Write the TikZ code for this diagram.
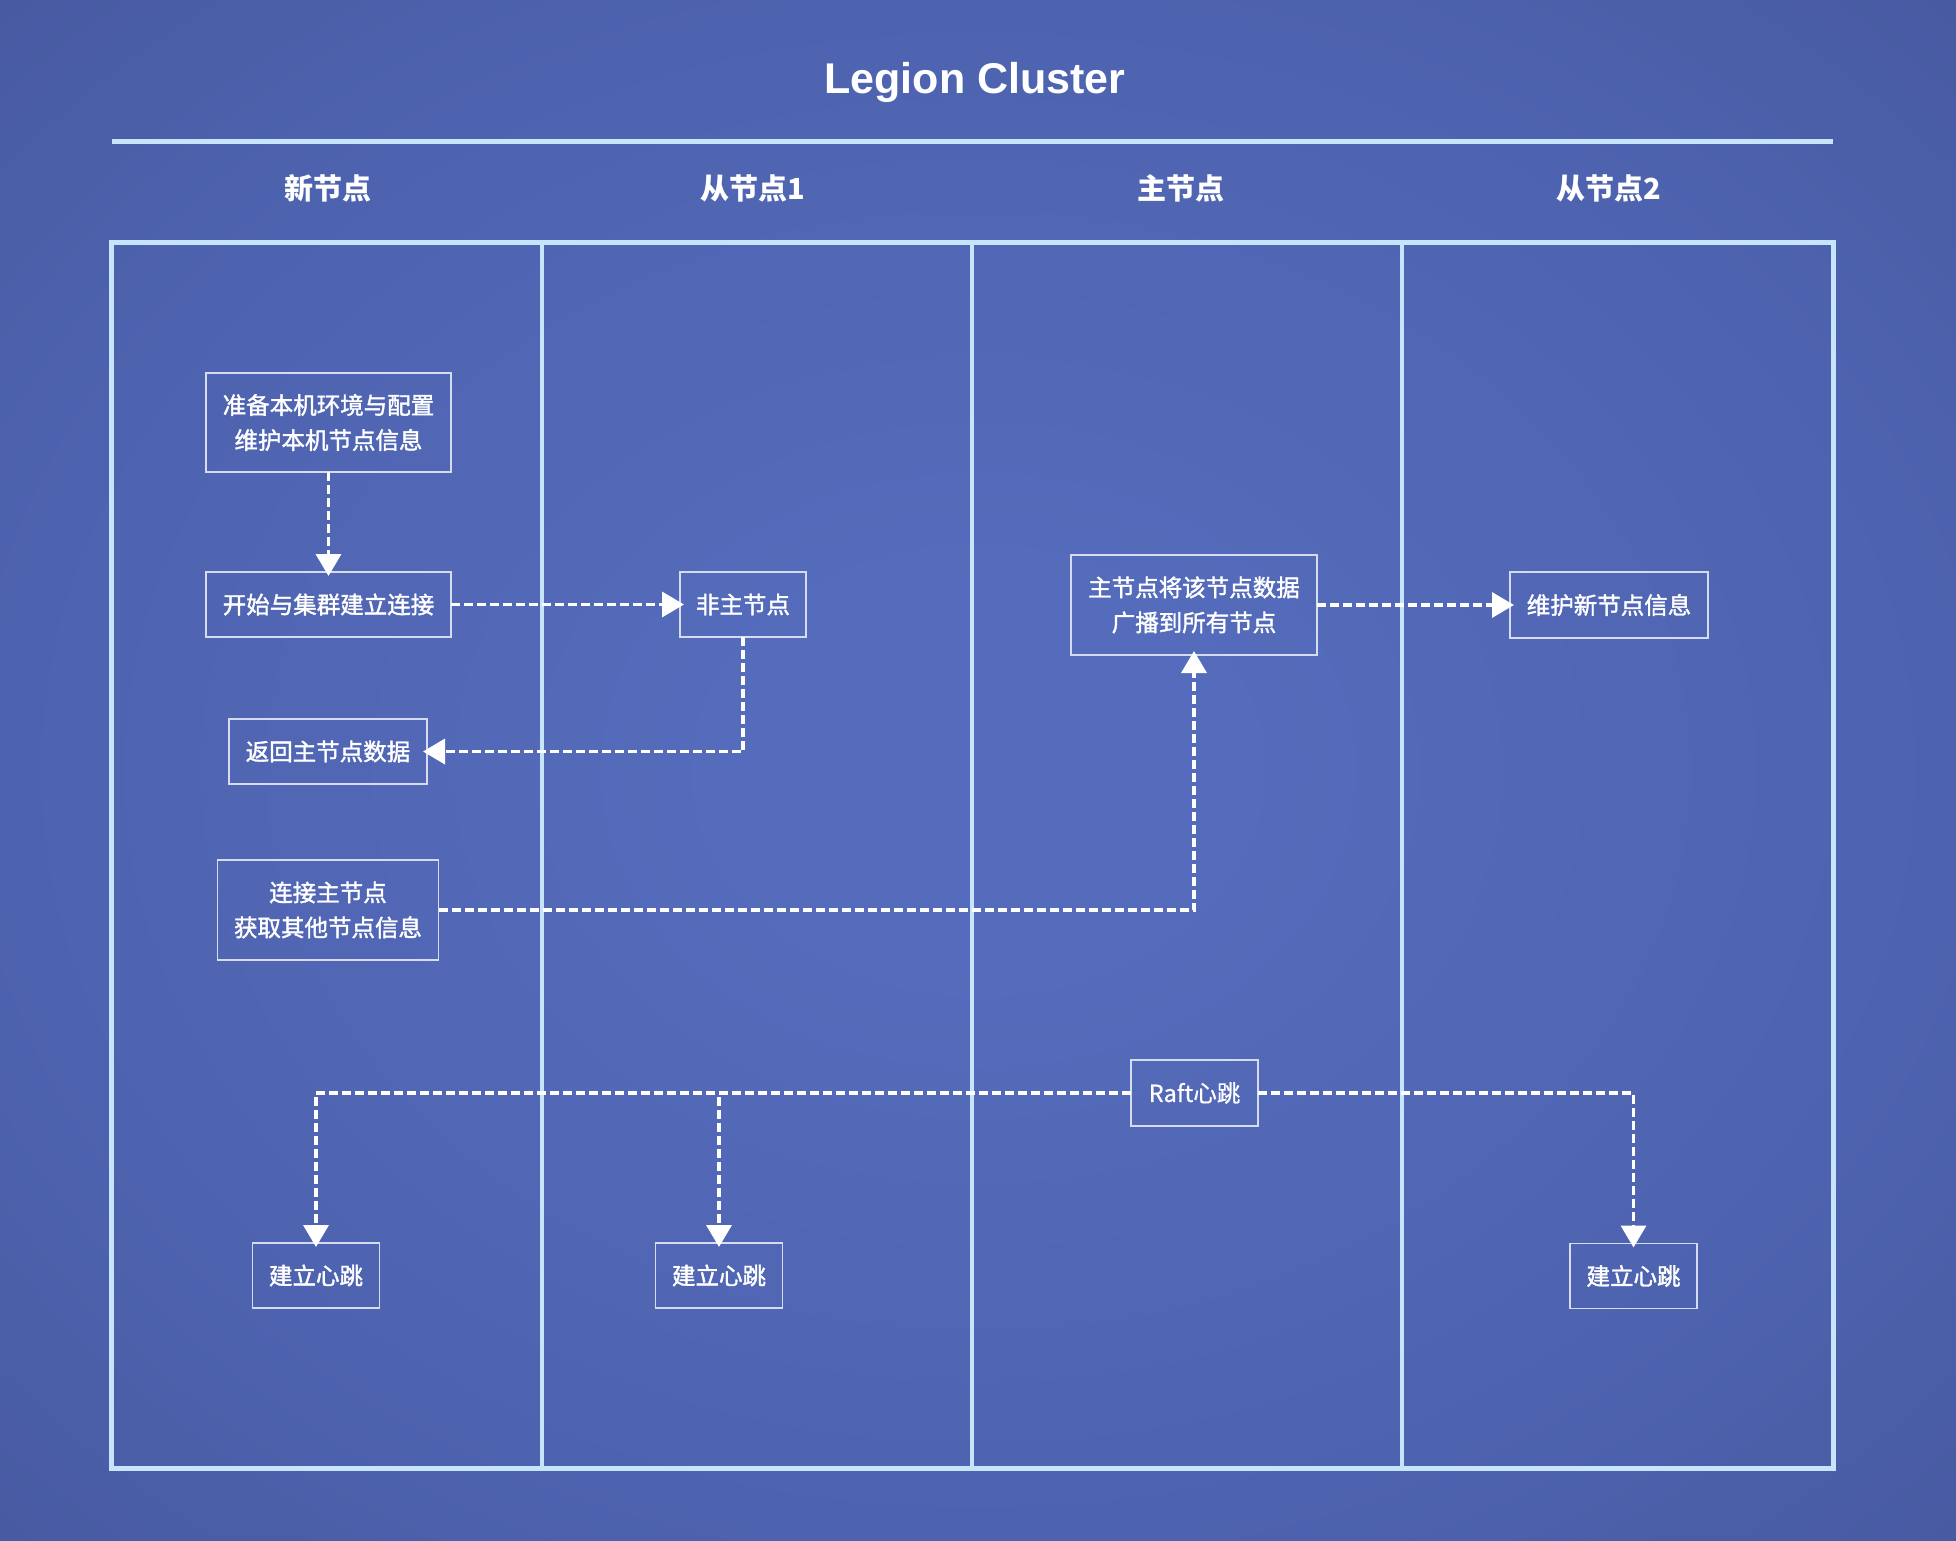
\documentclass[tikz,border=0pt]{standalone}
\usepackage{fontspec}
\setmainfont{Noto Sans CJK SC}
\newfontfamily\titlefont{Liberation Sans}
\newfontfamily\medfont[FakeBold=1.6]{Noto Sans CJK SC}
\newfontfamily\rafont[FakeBold=0.6]{Noto Sans CJK SC}
\usetikzlibrary{arrows.meta}
\definecolor{bginner}{HTML}{556CBC}
\definecolor{bgring}{HTML}{4E63AF}
\definecolor{bgmid}{HTML}{44569C}
\definecolor{bgedge}{HTML}{3D4C8C}
\definecolor{bgouter}{HTML}{36437A}
\definecolor{lanecol}{HTML}{C6E4FA}
\definecolor{boxline}{HTML}{D5DCF0}
\pgfdeclareradialshading{bgshade}{\pgfpoint{0bp}{0bp}}{color(0bp)=(bginner); color(6bp)=(bginner); color(25bp)=(bgring); color(40bp)=(bgmid); color(50bp)=(bgedge); color(71bp)=(bgouter)}
\begin{document}
\begin{tikzpicture}[x=1pt,y=-1pt,
  box/.style={draw=boxline, line width=1.6pt, text=white, inner sep=0pt, outer sep=0pt, align=center, font=\medfont\fontsize{23.5}{35}\selectfont},
  flow/.style={draw=white, line width=3.6pt, dash pattern=on 9pt off 4pt, shorten >=-4pt, -{Triangle[length=22pt,width=25pt]}},
  hdr/.style={text=white, font=\bfseries\fontsize{29}{29}\selectfont},
  lane/.style={draw=lanecol, line width=5pt},
  divider/.style={draw=lanecol, line width=4pt}]
\shade[shading=bgshade] (0,0) rectangle (1956,1540);
\useasboundingbox (0,0) rectangle (1956,1540);
% title
\node[anchor=base, text=white, font=\titlefont\bfseries\fontsize{43}{43}\selectfont] (title) at (975,93) {Legion Cluster};
\draw[lane] (112,141) -- (1833,141);
% headers
\node[hdr] (h1) at (328,188.5) {新节点};
\node[hdr] (h2) at (753,188.5) {从节点1};
\node[hdr] (h3) at (1181,188.5) {主节点};
\node[hdr] (h4) at (1609,188.5) {从节点2};
% lanes
\draw[divider] (541.5,242) -- (541.5,1468.5);
\draw[divider] (972,242) -- (972,1468.5);
\draw[divider] (1402,242) -- (1402,1468.5);
\draw[lane] (111.8,242) rectangle (1833,1468.5);
% boxes
\node[box, minimum width=245pt, minimum height=99pt] (b1) at (328.5,422.5) {准备本机环境与配置\\维护本机节点信息};
\node[box, minimum width=245pt, minimum height=65pt] (b2) at (328.5,604.5) {开始与集群建立连接};
\node[box, minimum width=126pt, minimum height=65pt] (b3) at (743,604.5) {非主节点};
\node[box, minimum width=198pt, minimum height=65pt] (b4) at (328,751.5) {返回主节点数据};
\node[box, minimum width=221pt, minimum height=100pt] (b5) at (328,910) {连接主节点\\获取其他节点信息};
\node[box, minimum width=246pt, minimum height=100pt] (b6) at (1194,605) {主节点将该节点数据\\广播到所有节点};
\node[box, minimum width=198pt, minimum height=66pt] (b7) at (1609,605) {维护新节点信息};
\node[box, minimum width=127pt, minimum height=66pt, font=\rafont\fontsize{23.5}{35}\selectfont] (b8) at (1194.5,1093) {Raft心跳};
\node[box, minimum width=127pt, minimum height=65pt] (b9) at (316,1275.5) {建立心跳};
\node[box, minimum width=127pt, minimum height=65pt] (b10) at (719,1275.5) {建立心跳};
\node[box, minimum width=127pt, minimum height=65pt] (b11) at (1633.5,1276) {建立心跳};
% connectors
\draw[flow] (b1.south) -- (b2.north);
\draw[flow] (b2.east) -- (b3.west);
\draw[flow] (b3.south) |- (b4.east);
\draw[flow] (b5.east) -| (b6.south);
\draw[flow] (b6.east) -- (b7.west);
\draw[flow] (b8.west) -| (b9.north);
\draw[flow] (b8.west) -| (b10.north);
\draw[flow] (b8.east) -| (b11.north);
\end{tikzpicture}
\end{document}
